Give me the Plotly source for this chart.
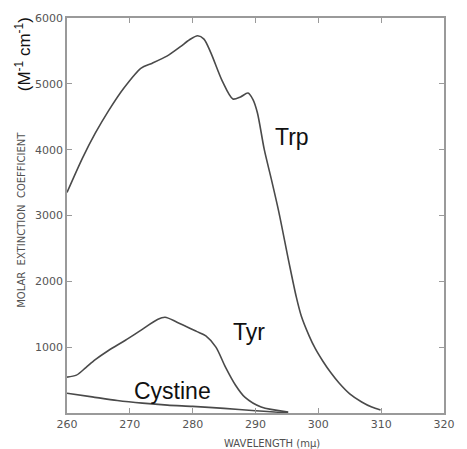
import plotly.graph_objects as go

# Molar extinction spectra of the aromatic amino acids and cystine
trp_wavelength = [260, 262.5, 264.5, 266.6, 269, 271.8, 273.5, 275.9, 278, 279.5, 280.8, 281.8,
                  282.9, 284.7, 286.4, 287.6, 288.8, 289.6, 290.3, 291.4, 292.5, 293.7, 295.3,
                  296.5, 297.3, 298.5, 299.5, 300.7, 302, 303.3, 305, 306.9, 308.5, 309.9]
trp_epsilon = [3350, 3880, 4250, 4590, 4930, 5240, 5310, 5420, 5560, 5670, 5730, 5680,
               5470, 5045, 4770, 4800, 4860, 4760, 4560, 4000, 3560, 3060, 2300,
               1760, 1470, 1180, 980, 790, 610, 455, 290, 167, 90, 45]

tyr_wavelength = [260, 261.5, 263, 264.5, 266.6, 269.3, 271.8, 274.4, 275.6, 277.5, 280.6,
                  282.1, 283.7, 285.2, 286.8, 288.3, 290.9, 295.2]
tyr_epsilon = [545, 575, 690, 810, 950, 1105, 1260, 1420, 1455, 1380, 1240,
               1170, 1000, 700, 425, 240, 90, 15]

cys_wavelength = [260, 264, 268, 272, 276, 280, 285, 290, 293, 295.2]
cys_epsilon = [300, 245, 190, 150, 120, 100, 70, 35, 15, 5]

x_ticks = [260, 270, 280, 290, 300, 310, 320]
y_ticks = [1000, 2000, 3000, 4000, 5000, 6000]

curve_color = "#4a4a4a"
frame_color = "#9a9a9a"
tick_font = dict(family="DejaVu Sans", size=11, color="#555555")
label_font = dict(family="Liberation Sans, Arial", size=23, color="#111111")

fig = go.Figure()
for wl, eps in [(trp_wavelength, trp_epsilon),
                (tyr_wavelength, tyr_epsilon),
                (cys_wavelength, cys_epsilon)]:
    fig.add_trace(go.Scatter(
        x=wl, y=eps, mode="lines",
        line=dict(color=curve_color, width=1.6, shape="spline", smoothing=0.8),
        showlegend=False, hoverinfo="skip",
    ))

annotations = [
    dict(x=292.8, y=4200, xref="x", yref="y", text="Trp", showarrow=False,
         xanchor="left", yanchor="middle", font=label_font),
    dict(x=286.1, y=1230, xref="x", yref="y", text="Tyr", showarrow=False,
         xanchor="left", yanchor="middle", font=label_font),
    dict(x=270.4, y=330, xref="x", yref="y", text="Cystine", showarrow=False,
         xanchor="left", yanchor="middle", font=label_font),
    dict(x=-0.121, y=0.49, xref="paper", yref="paper",
         text="MOLAR  EXTINCTION  COEFFICIENT", showarrow=False, textangle=-90,
         xanchor="center", yanchor="middle",
         font=dict(family="DejaVu Sans", size=10, color="#505050")),
    dict(x=-0.116, y=0.909, xref="paper", yref="paper",
         text="(M<sup>-1</sup> cm<sup>-1</sup>)", showarrow=False, textangle=-90,
         xanchor="center", yanchor="middle",
         font=dict(family="Liberation Sans, Arial", size=17, color="#111111")),
    dict(x=0.544, y=-0.076, xref="paper", yref="paper",
         text="WAVELENGTH (mμ)", showarrow=False,
         xanchor="center", yanchor="middle",
         font=dict(family="DejaVu Sans", size=10, color="#505050")),
]

fig.update_layout(
    width=467, height=449,
    margin=dict(l=67, r=12, t=17, b=36),
    paper_bgcolor="white", plot_bgcolor="white",
    annotations=annotations,
)
fig.update_xaxes(
    range=[260, 320], tickvals=x_ticks, showgrid=False, zeroline=False,
    showline=True, linecolor=frame_color, linewidth=1.5, mirror="ticks",
    ticks="inside", ticklen=5, tickcolor=frame_color, tickfont=tick_font,
)
fig.update_yaxes(
    range=[0, 6000], tickvals=y_ticks, showgrid=False, zeroline=False,
    showline=True, linecolor=frame_color, linewidth=1.5, mirror="ticks",
    ticks="inside", ticklen=5, tickcolor=frame_color, tickfont=tick_font,
)

fig.write_html("out.html")
